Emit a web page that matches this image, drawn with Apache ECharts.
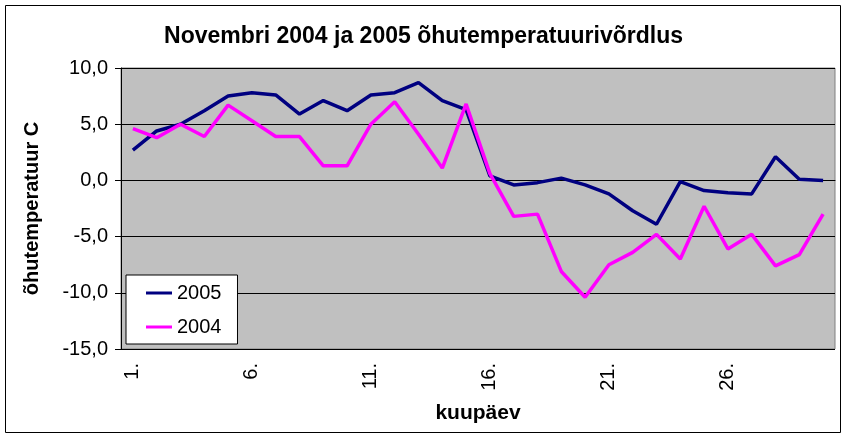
<!DOCTYPE html>
<html lang="et">
<head>
    <meta charset="UTF-8">
    <title>Novembri õhutemperatuur</title>
    <style>
        html, body { margin: 0; padding: 0; background: #fff; }
        .chart { width: 847px; height: 438px; }
    </style>
</head>
<body>
    <div class="chart"></div>
    <script src="https://cdn.jsdelivr.net/npm/echarts@6/dist/echarts.min.js"></script>
    <script>
        // päevad 1.-30.
        const days = []
        for (let d = 1; d <= 30; d++) days.push(d + '.')

        const t2005 = [2.7, 4.4, 5.0, 6.2, 7.5, 7.8, 7.6, 5.9, 7.1, 6.2,
            7.6, 7.8, 8.7, 7.1, 6.3, 0.4, -0.4, -0.2, 0.2, -0.4,
            -1.2, -2.7, -3.9, -0.1, -0.9, -1.1, -1.2, 2.1, 0.1, 0.0]
        const t2004 = [4.6, 3.8, 5.0, 3.9, 6.7, 5.3, 3.9, 3.9, 1.3, 1.3,
            5.0, 7.0, 4.1, 1.1, 6.8, 0.6, -3.2, -3.0, -8.1, -10.4,
            -7.5, -6.4, -4.8, -7.0, -2.3, -6.1, -4.8, -7.6, -6.6, -3.0]

        const font = 'Liberation Sans, Arial, sans-serif'
        const chart = echarts.init(document.querySelector('.chart'))

        chart.setOption({
            animation: false,
            backgroundColor: '#fff',
            title: {
                text: 'Novembri 2004 ja 2005 õhutemperatuurivõrdlus',
                left: 'center',
                top: 20,
                textStyle: { fontFamily: font, fontSize: 23, fontWeight: 'bold', color: '#000' }
            },
            graphic: [{
                type: 'rect',
                shape: { x: 5.5, y: 5.5, width: 835, height: 427 },
                style: { fill: 'none', stroke: '#000', lineWidth: 1 },
                silent: true
            }],
            legend: {
                orient: 'vertical',
                left: 126,
                top: 275,
                backgroundColor: '#fff',
                borderColor: '#000',
                borderWidth: 1,
                padding: [8, 16, 7, 20],
                itemGap: 14,
                itemWidth: 26,
                itemHeight: 3,
                icon: 'rect',
                textStyle: { fontFamily: font, fontSize: 20, color: '#000' },
                data: ['2005', '2004']
            },
            grid: {
                left: 121, right: 12, top: 68, bottom: 89,
                show: true,
                backgroundColor: '#c0c0c0',
                borderColor: '#808080',
                borderWidth: 1
            },
            xAxis: {
                type: 'category',
                data: days,
                boundaryGap: true,
                name: 'kuupäev',
                nameLocation: 'middle',
                nameGap: 54,
                nameTextStyle: { fontFamily: font, fontSize: 21, fontWeight: 'bold', color: '#000' },
                axisLine: { lineStyle: { color: '#000', width: 1 } },
                axisTick: { interval: 0, length: 6, lineStyle: { color: '#000' } },
                axisLabel: {
                    interval: 4,
                    rotate: 90,
                    margin: 14,
                    fontFamily: font,
                    fontSize: 20,
                    color: '#000'
                },
                splitLine: { show: false }
            },
            yAxis: {
                type: 'value',
                min: -15,
                max: 10,
                interval: 5,
                name: 'õhutemperatuur C',
                nameLocation: 'middle',
                nameGap: 79,
                nameTextStyle: { fontFamily: font, fontSize: 20, fontWeight: 'bold', color: '#000' },
                axisLine: { show: true, lineStyle: { color: '#000', width: 1 } },
                axisTick: { show: true, length: 6, lineStyle: { color: '#000' } },
                axisLabel: {
                    margin: 13,
                    fontFamily: font,
                    fontSize: 20,
                    color: '#000',
                    formatter: v => v.toFixed(1).replace('.', ',')
                },
                splitLine: { show: true, lineStyle: { color: '#000', width: 1 } }
            },
            series: [{
                name: '2005',
                type: 'line',
                data: t2005,
                symbol: 'none',
                lineStyle: { color: '#000080', width: 3.5 },
                itemStyle: { color: '#000080' }
            }, {
                name: '2004',
                type: 'line',
                data: t2004,
                symbol: 'none',
                lineStyle: { color: '#ff00ff', width: 3.5 },
                itemStyle: { color: '#ff00ff' }
            }]
        })
    </script>
</body>
</html>
